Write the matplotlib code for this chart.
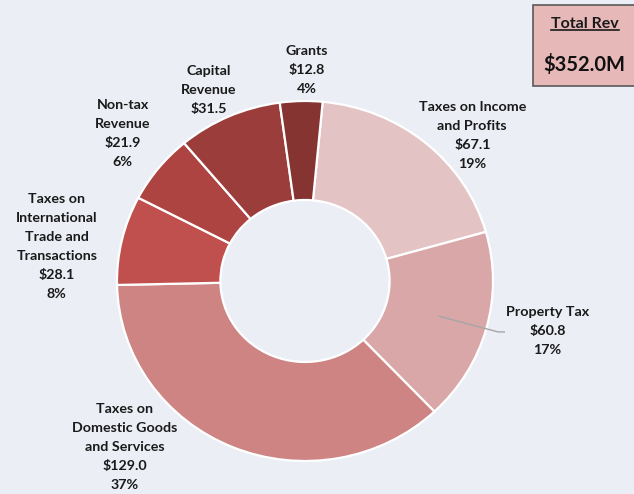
import matplotlib.pyplot as plt
import numpy as np
from matplotlib.patches import Rectangle
from matplotlib.lines import Line2D

# data
categories = ['Taxes on Income\nand Profits', 'Property Tax',
              'Taxes on\nDomestic Goods\nand Services',
              'Taxes on\nInternational\nTrade and\nTransactions',
              'Non-tax\nRevenue', 'Capital\nRevenue', 'Grants']
values = [67.1, 60.8, 129.0, 28.1, 21.9, 31.5, 12.8]
show_pct = [True, True, True, True, True, False, True]
total_rev = 352.0
colors = ['#E4C3C4', '#D9A7A7', '#CD8482', '#C0504D', '#AE4441', '#9B3D3B', '#853431']

bg = '#EBEEF5'
plt.rcParams['font.family'] = ['Lato', 'DejaVu Sans']

fig = plt.figure(figsize=(6.34, 4.94), dpi=100, facecolor=bg)
# axes placed so the ring centre sits where it does in the reference
ax = fig.add_axes([0.1252, 0.0304, 0.7117, 0.8016])
ax.set_facecolor(bg)

start = 84.6
wedges, _ = ax.pie(values, colors=colors, startangle=start, counterclock=False,
                   radius=1.0, wedgeprops=dict(width=0.55, edgecolor='white', linewidth=1.6))
ax.set_aspect('auto')
ax.set_xlim(-1.2, 1.2)
ax.set_ylim(-1.1, 1.1)
ax.axis('off')

total = sum(values)
label_pos = [(0.89, 0.81), (1.29, -0.28), (-0.96, -0.92), (-1.32, 0.19),
             (-0.97, 0.82), (-0.51, 1.06), (0.01, 1.17)]
for i, (cat, v) in enumerate(zip(categories, values)):
    txt = f'{cat}\n${v:.1f}'
    if show_pct[i]:
        txt += f'\n{v / total * 100:.0f}%'
    x, y = label_pos[i]
    ax.text(x, y, txt, ha='center', va='center', fontsize=10.3, fontweight='bold',
            color='#1a1a1a', linespacing=1.7)

# leader line for Property Tax
w = wedges[1]
mid = np.deg2rad((w.theta1 + w.theta2) / 2)
px, py = 0.74 * np.cos(mid), 0.74 * np.sin(mid)
ax.plot([px, 1.027, 1.06], [py, -0.283, -0.283], color='#A6A6A6', lw=1)

# Total Rev box
fig.patches.append(Rectangle((0.8407, 0.826), 0.2, 0.164, transform=fig.transFigure,
                             facecolor='#E6B9B8', edgecolor='#595959', lw=1.2))
t = fig.text(0.9227, 0.951, 'Total Rev', ha='center', va='center', fontsize=11.5,
             fontweight='bold', color='#1a1a1a')
fig.text(0.921, 0.870, f'${total_rev:.1f}M', ha='center', va='center', fontsize=14.5,
         fontweight='bold', color='#111111')

fig.canvas.draw()
bb = t.get_window_extent().transformed(fig.transFigure.inverted())
fig.lines.append(Line2D([bb.x0, bb.x1], [bb.y0 + 0.002, bb.y0 + 0.002],
                        transform=fig.transFigure, color='#1a1a1a', lw=1.2))

fig.savefig('out.png', dpi=100, facecolor=bg)
